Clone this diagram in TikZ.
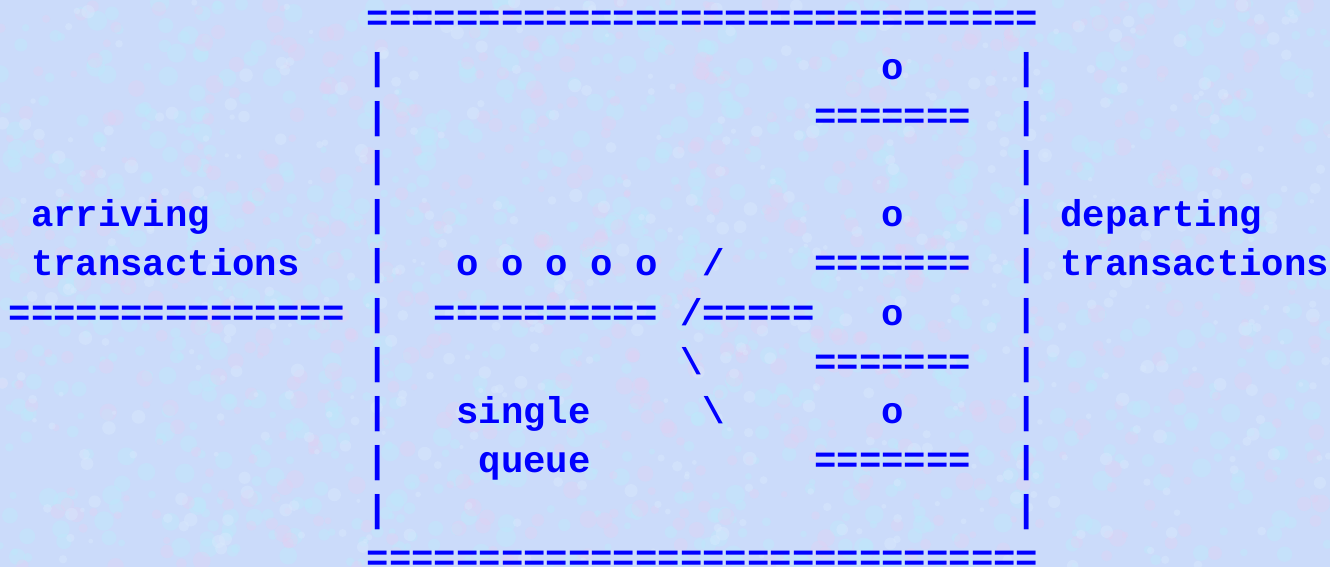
\documentclass[tikz,border=0pt]{standalone}
\usepackage{fontspec}
\setmonofont{Liberation Mono}
\definecolor{bgbase}{RGB}{203,219,250}
\definecolor{bgcyan}{RGB}{188,234,252}
\definecolor{bgpink}{RGB}{228,208,242}
\definecolor{bglight}{RGB}{218,234,253}
\definecolor{inkblue}{RGB}{0,0,255}
\tikzset{
  txt/.style={inner sep=0pt, outer sep=0pt, anchor=base west, text=inkblue,
    font=\fontsize{37.3}{44}\selectfont\ttfamily\bfseries},
}
\newcommand\putc[4]{\node[txt] (#1) at ({8.7+#2*22.38},{30.4+#3*49.1}) {#4};}
\begin{document}
\begin{tikzpicture}[x=1pt,y=-1pt]
\useasboundingbox (0,0) rectangle (1330,567);
\fill[bgbase] (0,0) rectangle (1330,567);
\pgfmathsetseed{7}
\begin{scope}
\clip (0,0) rectangle (1330,567);
\foreach \i in {1,...,1100}{
  \pgfmathsetmacro\px{rnd*1330}
  \pgfmathsetmacro\py{rnd*567}
  \pgfmathsetmacro\pr{3+rnd*7}
  \fill[bgcyan,opacity=0.4] (\px,\py) circle[radius=\pr];
}
\foreach \i in {1,...,700}{
  \pgfmathsetmacro\px{rnd*1330}
  \pgfmathsetmacro\py{rnd*567}
  \pgfmathsetmacro\pr{3+rnd*6}
  \fill[bgpink,opacity=0.35] (\px,\py) circle[radius=\pr];
}
\foreach \i in {1,...,500}{
  \pgfmathsetmacro\px{rnd*1330}
  \pgfmathsetmacro\py{rnd*567}
  \pgfmathsetmacro\pr{2+rnd*5}
  \fill[bglight,opacity=0.4] (\px,\py) circle[radius=\pr];
}
\end{scope}
% top and bottom borders
\putc{top}{16}{0}{==============================}
\putc{bottom}{16}{11}{==============================}
% side walls
\foreach \r in {1,...,10}{
  \putc{lw\r}{16}{\r}{|}
  \putc{rw\r}{45}{\r}{|}
}
% servers
\putc{s1}{39}{1}{o}
\putc{c1}{36}{2}{=======}
\putc{s2}{39}{4}{o}
\putc{c2}{36}{5}{=======}
\putc{s3}{39}{6}{o}
\putc{c3}{36}{7}{=======}
\putc{s4}{39}{8}{o}
\putc{c4}{36}{9}{=======}
% arrivals and departures
\putc{arr1}{1}{4}{arriving}
\putc{arr2}{1}{5}{transactions}
\putc{arrline}{0}{6}{===============}
\putc{dep1}{47}{4}{departing}
\putc{dep2}{47}{5}{transactions}
% queue
\putc{queue}{20}{5}{o o o o o}
\putc{qline}{19}{6}{==========}
\putc{sl1}{31}{5}{/}
\putc{sl2}{30}{6}{/=====}
\putc{bs1}{30}{7}{\textbackslash}
\putc{bs2}{31}{8}{\textbackslash}
\putc{lab1}{20}{8}{single}
\putc{lab2}{21}{9}{queue}
\end{tikzpicture}
\end{document}
